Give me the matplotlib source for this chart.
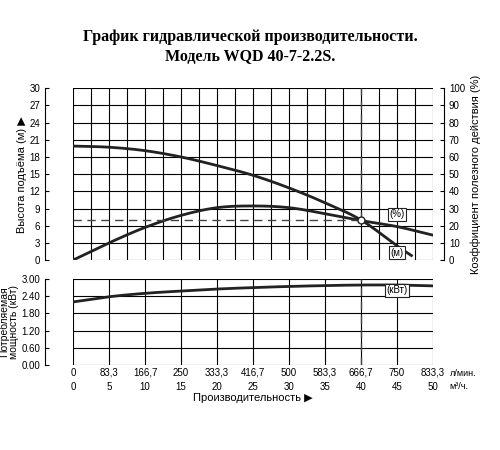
import numpy as np
import matplotlib.pyplot as plt

# Data
q = [0, 5, 10, 15, 20, 25, 30, 35, 40, 45, 47]
head = [19.9, 19.7, 19.1, 18.0, 16.5, 14.8, 12.6, 10.0, 7.0, 2.5, 0.8]
q_eff = [0, 5, 10, 15, 20, 25, 30, 35, 40, 45, 50]
eff = [0, 10, 19, 26, 30.5, 31.5, 30.5, 27, 23, 19.5, 14.5]
q_pow = [0, 5, 10, 15, 20, 25, 30, 35, 40, 45, 50]
power = [2.2, 2.38, 2.5, 2.58, 2.65, 2.7, 2.74, 2.77, 2.79, 2.79, 2.76]
lmin_labels = ["0", "83,3", "166,7", "250", "333,3", "416,7", "500", "583,3", "666,7", "750", "833,3"]
m3h_labels = ["0", "5", "10", "15", "20", "25", "30", "35", "40", "45", "50"]
duty_q, duty_h = 40, 7.0

plt.rcParams['font.family'] = ['Liberation Sans', 'DejaVu Sans']
fig = plt.figure(figsize=(5, 4.5), dpi=100)
fig.text(0.5, 0.895, "График гидравлической производительности.\nМодель WQD 40-7-2.2S.",
         ha='center', va='center', fontsize=11.5, fontweight='bold',
         family='Liberation Serif', linespacing=1.3)

ax = fig.add_axes([0.146, 0.422, 0.72, 0.382])
ax2 = fig.add_axes([0.146, 0.189, 0.72, 0.191])


def smooth(x, y, n=30):
    # Catmull-Rom spline through the read points
    x = np.asarray(x, float); y = np.asarray(y, float)
    px = np.concatenate([[2 * x[0] - x[1]], x, [2 * x[-1] - x[-2]]])
    py = np.concatenate([[2 * y[0] - y[1]], y, [2 * y[-1] - y[-2]]])
    xs, ys = [], []
    t = np.linspace(0, 1, n)
    for i in range(1, len(px) - 2):
        for p, out in ((px, xs), (py, ys)):
            p0, p1, p2, p3 = p[i - 1:i + 3]
            out.extend(0.5 * (2 * p1 + (-p0 + p2) * t + (2 * p0 - 5 * p1 + 4 * p2 - p3) * t ** 2
                              + (-p0 + 3 * p1 - 3 * p2 + p3) * t ** 3))
    return xs, ys


for a in (ax, ax2):
    a.set_xlim(0, 50)
    a.set_xticks(np.arange(0, 50.1, 2.5))
    a.grid(True, color='black', lw=0.8)
    a.tick_params(axis='x', length=0, labelbottom=False)
    a.spines['top'].set_visible(False)
    a.spines['bottom'].set_visible(False)
    a.spines['right'].set_visible(False)
    a.spines['left'].set_position(('outward', 20))
    a.tick_params(axis='y', labelsize=7, direction='in', length=3)

ax.set_ylim(0, 30)
ax.set_yticks(range(0, 31, 3))
ax.set_ylabel("Высота подъёма (м) ▶", fontsize=8, labelpad=2)

axr = ax.twinx()
axr.set_ylim(0, 100)
axr.set_yticks(range(0, 101, 10))
for s in ('top', 'bottom', 'left'):
    axr.spines[s].set_visible(False)
axr.spines['right'].set_position(('outward', 8))
axr.tick_params(axis='y', labelsize=7, direction='in', length=3)
axr.set_ylabel("Коэффициент полезного действия (%)", fontsize=8)

xs, ys = smooth(q, head)
ax.plot(xs, ys, color='#222', lw=2)
xs, ys = smooth(q_eff, eff)
ax.plot(xs, np.array(ys) * 0.3, color='#222', lw=2)
ax.plot([0, duty_q], [duty_h, duty_h], color='#444', lw=1, ls=(0, (6, 4)))
ax.plot([duty_q, duty_q], [duty_h, 30], color='#444', lw=1, ls=(0, (6, 4)))
ax.plot(duty_q, duty_h, 'o', mfc='white', mec='#222', ms=5, zorder=5)

box = dict(boxstyle='square,pad=0.15', fc='white', ec='#222', lw=0.8)
ax.text(45, 8.0, "(%)", fontsize=7, ha='center', va='center', bbox=box)
ax.text(45, 1.3, "(м)", fontsize=7, ha='center', va='center', bbox=box)

ax2.set_ylim(0, 3)
ax2.set_yticks(np.arange(0, 3.01, 0.6))
ax2.set_yticklabels([f"{v:.2f}" for v in np.arange(0, 3.01, 0.6)])
ax2.set_ylabel("Потребляемая\nмощность (кВт)", fontsize=7.5, labelpad=2, linespacing=1.0)
xs, ys = smooth(q_pow, power)
ax2.plot(xs, ys, color='#222', lw=2)
ax2.plot([duty_q, duty_q], [0, 3], color='#444', lw=1, ls=(0, (6, 4)))
ax2.text(45, 2.6, "(кВт)", fontsize=7, ha='center', va='center', bbox=box)

ax2.set_xticks(range(0, 51, 5))
ax2.tick_params(axis='x', labelbottom=True, labelsize=7, pad=2)
ax2.set_xticklabels([f"{a}\n{b}" for a, b in zip(lmin_labels, m3h_labels)], linespacing=1.5)
ax2.text(52.3, -0.3, "л/мин.", fontsize=6.5, va='center')
ax2.text(52.3, -0.75, "м³/ч.", fontsize=6.5, va='center')
ax2.set_xlabel("Производительность ▶", fontsize=8, labelpad=1)

fig.savefig("out.png", dpi=100)
